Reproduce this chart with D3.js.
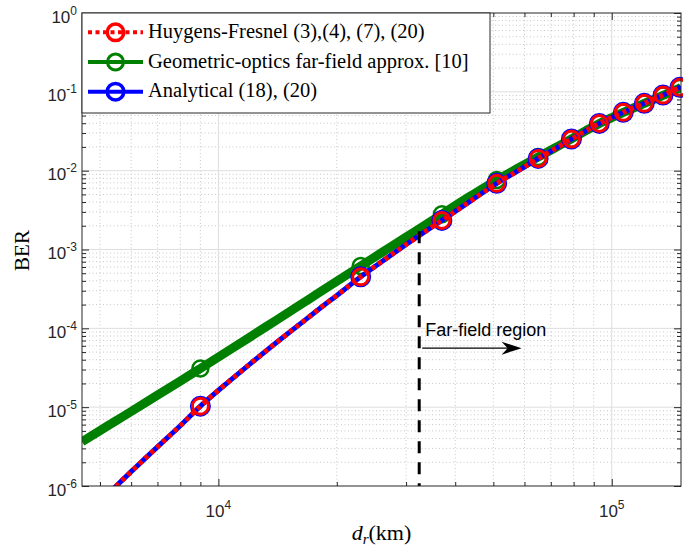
<!DOCTYPE html>
<html>
<head>
<meta charset="utf-8">
<script src="https://cdn.jsdelivr.net/npm/d3@7"></script>
<style>
  body { margin: 0; background: #fff; }
</style>
</head>
<body>
<figure id="chart" style="margin: 0"></figure>
<script>
// distance d_r in km
const distKm = [4500, 5000, 5500, 6000, 7000, 8000, 9000, 10700, 12000, 14000, 16000, 18000, 20000, 23000, 26000, 30000, 33000, 37000, 44000, 51000, 58000, 65000, 72000, 79000, 86000, 93000, 100000, 107000, 114000, 121000, 128000, 135000, 142000, 149000, 150000]

const huygensBer = [3.7e-7, 6.3e-7, 1.0e-6, 1.52e-6, 3.14e-6, 5.82e-6, 1.03e-5, 2.17e-5, 3.49e-5, 6.52e-5, 1.10e-4, 1.75e-4, 2.61e-4, 4.5e-4, 7.0e-4, 1.156e-3, 1.6e-3, 2.34e-3, 4.2e-3, 6.9e-3, 1.01e-2, 1.43e-2, 1.92e-2, 2.52e-2, 3.21e-2, 3.98e-2, 4.72e-2, 5.5e-2, 6.3e-2, 7.15e-2, 8.1e-2, 9.1e-2, 0.102, 0.114, 0.116]

const analyticalBer = [3.7e-7, 6.3e-7, 1.0e-6, 1.52e-6, 3.14e-6, 5.82e-6, 1.03e-5, 2.17e-5, 3.49e-5, 6.52e-5, 1.10e-4, 1.75e-4, 2.61e-4, 4.5e-4, 7.0e-4, 1.156e-3, 1.6e-3, 2.34e-3, 4.2e-3, 6.9e-3, 1.01e-2, 1.43e-2, 1.92e-2, 2.52e-2, 3.21e-2, 3.98e-2, 4.72e-2, 5.5e-2, 6.3e-2, 7.15e-2, 8.1e-2, 9.1e-2, 0.102, 0.114, 0.116]

const geometricBer = [3.65e-6, 5.04e-6, 6.75e-6, 8.81e-6, 1.42e-5, 2.14e-5, 3.10e-5, 5.35e-5, 7.69e-5, 1.26e-4, 1.93e-4, 2.82e-4, 3.95e-4, 6.17e-4, 9.12e-4, 1.44e-3, 1.94e-3, 2.8e-3, 4.85e-3, 7.6e-3, 1.09e-2, 1.49e-2, 1.97e-2, 2.53e-2, 3.22e-2, 3.97e-2, 4.7e-2, 5.48e-2, 6.28e-2, 7.12e-2, 8.05e-2, 9.0e-2, 0.101, 0.112, 0.114]

// distances carrying a marker
const markerKm = [9000, 23000, 37000, 51000, 65000, 79000, 93000, 107000, 121000, 135000, 149000]

const xTickValues = [1e4, 1e5]
const yTickValues = [1e-6, 1e-5, 1e-4, 1e-3, 1e-2, 1e-1, 1e0]

const legendLabels = ['Huygens-Fresnel (3),(4), (7), (20)', 'Geometric-optics far-field approx. [10]', 'Analytical (18), (20)']

// far-field annotation
const farFieldKm = 32400
const farFieldTopBer = 1.7e-3
const arrowEndKm = 59000
const arrowBer = 5.6e-5

const W = 683
const H = 546
const margin = {top: 13, right: 2, bottom: 60, left: 82}
const width = W - margin.left - margin.right
const height = H - margin.top - margin.bottom
const axisColor = '#262626'

const svg = d3.select('#chart')
  .append('svg')
  .attr('width', W)
  .attr('height', H)
  .style('display', 'block')

const x = d3.scaleLog()
  .domain([4500, 1.5e5])
  .range([margin.left, margin.left + width])

const y = d3.scaleLog()
  .domain([1e-6, 1])
  .range([margin.top + height, margin.top])

const xMinor = []
;[1e3, 1e4, 1e5].forEach(b => { for (let k = 2; k <= 9; k++) xMinor.push(k * b) })
const xMinorIn = xMinor.filter(v => v > 4500 && v < 1.5e5)
const yMinor = []
for (let e = -6; e < 0; e++) { for (let k = 2; k <= 9; k++) yMinor.push(k * Math.pow(10, e)) }

// grid
const grid = svg.append('g')
grid.selectAll('.xminor').data(xMinorIn).enter().append('line')
  .attr('x1', d => x(d)).attr('x2', d => x(d))
  .attr('y1', margin.top).attr('y2', margin.top + height)
  .attr('stroke', '#c8c8c8').attr('stroke-width', 1).attr('stroke-dasharray', '1,2.5')
grid.selectAll('.yminor').data(yMinor).enter().append('line')
  .attr('y1', d => y(d)).attr('y2', d => y(d))
  .attr('x1', margin.left).attr('x2', margin.left + width)
  .attr('stroke', '#c8c8c8').attr('stroke-width', 1).attr('stroke-dasharray', '1,2.5')
grid.selectAll('.xmajor').data(xTickValues).enter().append('line')
  .attr('x1', d => x(d)).attr('x2', d => x(d))
  .attr('y1', margin.top).attr('y2', margin.top + height)
  .attr('stroke', '#dedede').attr('stroke-width', 1)
grid.selectAll('.ymajor').data(yTickValues.slice(1, -1)).enter().append('line')
  .attr('y1', d => y(d)).attr('y2', d => y(d))
  .attr('x1', margin.left).attr('x2', margin.left + width)
  .attr('stroke', '#dedede').attr('stroke-width', 1)

// ticks on all four sides, pointing inwards
function ticks(axis, values, size, transform) {
  svg.append('g')
    .attr('transform', transform)
    .call(axis.tickValues(values).tickSizeInner(size).tickSizeOuter(0).tickFormat(''))
    .call(g => g.select('.domain').remove())
    .call(g => g.selectAll('line').attr('stroke', axisColor))
}
const bottomY = margin.top + height
const rightX = margin.left + width
ticks(d3.axisBottom(x), xTickValues, -7, `translate(0, ${bottomY})`)
ticks(d3.axisBottom(x), xMinorIn, -4, `translate(0, ${bottomY})`)
ticks(d3.axisTop(x), xTickValues, -7, `translate(0, ${margin.top})`)
ticks(d3.axisTop(x), xMinorIn, -4, `translate(0, ${margin.top})`)
ticks(d3.axisLeft(y), yTickValues, -7, `translate(${margin.left}, 0)`)
ticks(d3.axisLeft(y), yMinor, -4, `translate(${margin.left}, 0)`)
ticks(d3.axisRight(y), yTickValues, -7, `translate(${rightX}, 0)`)
ticks(d3.axisRight(y), yMinor, -4, `translate(${rightX}, 0)`)

// tick labels 10^n
const tickFont = "'Liberation Sans', Arial, Helvetica, sans-serif"
const yLabels = svg.append('g').selectAll('text').data(yTickValues).enter().append('text')
  .attr('x', margin.left - 5)
  .attr('y', d => y(d) + 9.5)
  .attr('text-anchor', 'end')
  .attr('fill', axisColor)
  .style('font-family', tickFont)
  .style('font-size', '17px')
yLabels.append('tspan').text('10')
yLabels.append('tspan').attr('dy', -8).style('font-size', '12px').text(d => Math.round(Math.log10(d)))

const xLabels = svg.append('g').selectAll('text').data(xTickValues).enter().append('text')
  .attr('x', d => x(d))
  .attr('y', bottomY + 31)
  .attr('text-anchor', 'middle')
  .attr('fill', axisColor)
  .style('font-family', tickFont)
  .style('font-size', '17px')
xLabels.append('tspan').text('10')
xLabels.append('tspan').attr('dy', -8).style('font-size', '12px').text(d => Math.round(Math.log10(d)))

// axis titles
const serif = "'Liberation Serif', 'Times New Roman', serif"
svg.append('text')
  .attr('transform', `translate(29, ${margin.top + height / 2 + 1}) rotate(-90)`)
  .attr('text-anchor', 'middle')
  .style('font-family', serif)
  .style('font-size', '21px')
  .text('BER')

const xTitle = svg.append('text')
  .attr('x', margin.left + width / 2)
  .attr('y', 540)
  .attr('text-anchor', 'middle')
  .style('font-family', serif)
  .style('font-size', '22px')
xTitle.append('tspan').style('font-style', 'italic').text('d')
xTitle.append('tspan').style('font-style', 'italic').style('font-size', '15px').attr('dy', 4).text('r')
xTitle.append('tspan').attr('dy', -4).text('(km)')

// curves
svg.append('clipPath').attr('id', 'plot-clip')
  .append('rect')
  .attr('x', margin.left).attr('y', margin.top)
  .attr('width', width).attr('height', height)

const line = d3.line()
  .x(d => x(d[0]))
  .y(d => y(d[1]))
  .curve(d3.curveMonotoneX)

const series = [
  {values: geometricBer, color: '#008000', width: 9, dash: null, r: 8, mw: 2.5},
  {values: analyticalBer, color: '#0000ff', width: 5, dash: null, r: 9, mw: 3},
  {values: huygensBer, color: '#ff0000', width: 5, dash: '4,4', r: 8, mw: 3}
]

const plot = svg.append('g')
series.forEach(s => {
  const pts = distKm.map((d, i) => [d, s.values[i]])
  plot.append('path')
    .datum(pts)
    .attr('clip-path', 'url(#plot-clip)')
    .attr('fill', 'none')
    .attr('stroke', s.color)
    .attr('stroke-width', s.width)
    .attr('stroke-dasharray', s.dash)
    .attr('d', line)
  plot.selectAll(null)
    .data(pts.filter(p => markerKm.includes(p[0])))
    .enter()
    .append('circle')
    .attr('cx', d => x(d[0]))
    .attr('cy', d => y(d[1]))
    .attr('r', s.r)
    .attr('fill', 'none')
    .attr('stroke', s.color)
    .attr('stroke-width', s.mw)
})

// far-field annotation
svg.append('line')
  .attr('x1', x(farFieldKm)).attr('x2', x(farFieldKm))
  .attr('y1', y(farFieldTopBer)).attr('y2', bottomY)
  .attr('stroke', '#000')
  .attr('stroke-width', 3)
  .attr('stroke-dasharray', '12,9')

const ax0 = x(farFieldKm) + 3
const ax1 = x(arrowEndKm)
const ay = y(arrowBer)
svg.append('line')
  .attr('x1', ax0).attr('x2', ax1 - 10)
  .attr('y1', ay).attr('y2', ay)
  .attr('stroke', '#000')
  .attr('stroke-width', 1.2)
svg.append('path')
  .attr('d', `M${ax1},${ay} L${ax1 - 20},${ay - 6.5} L${ax1 - 14},${ay} L${ax1 - 20},${ay + 6.5} Z`)
  .attr('fill', '#000')

svg.append('text')
  .attr('x', x(farFieldKm) + 6)
  .attr('y', ay - 12)
  .style('font-family', tickFont)
  .style('font-size', '18px')
  .attr('fill', '#000')
  .text('Far-field region')

// axes box
svg.append('rect')
  .attr('x', margin.left).attr('y', margin.top)
  .attr('width', width).attr('height', height)
  .attr('fill', 'none')
  .attr('stroke', axisColor)
  .attr('stroke-width', 1)

// legend
const legend = svg.append('g')
legend.append('rect')
  .attr('x', margin.left).attr('y', margin.top)
  .attr('width', 408).attr('height', 100)
  .attr('fill', '#fff')
  .attr('stroke', axisColor)
  .attr('stroke-width', 1)

const legendItems = [
  {label: legendLabels[0], color: '#ff0000', width: 4, dash: '4,3.5', mw: 3.5, r: 8.3},
  {label: legendLabels[1], color: '#008000', width: 4, dash: null, mw: 3, r: 8},
  {label: legendLabels[2], color: '#0000ff', width: 4, dash: null, mw: 3.5, r: 8.3}
]

legendItems.forEach((item, i) => {
  const cy = margin.top + 19.3 + i * 29.7
  legend.append('line')
    .attr('x1', 88).attr('x2', 143)
    .attr('y1', cy).attr('y2', cy)
    .attr('stroke', item.color)
    .attr('stroke-width', item.width)
    .attr('stroke-dasharray', item.dash)
  legend.append('circle')
    .attr('cx', 115.5).attr('cy', cy)
    .attr('r', item.r)
    .attr('fill', 'none')
    .attr('stroke', item.color)
    .attr('stroke-width', item.mw)
  legend.append('text')
    .attr('x', 148)
    .attr('y', cy + 5.5)
    .style('font-family', serif)
    .style('font-size', '20.5px')
    .text(item.label)
})
</script>
</body>
</html>
